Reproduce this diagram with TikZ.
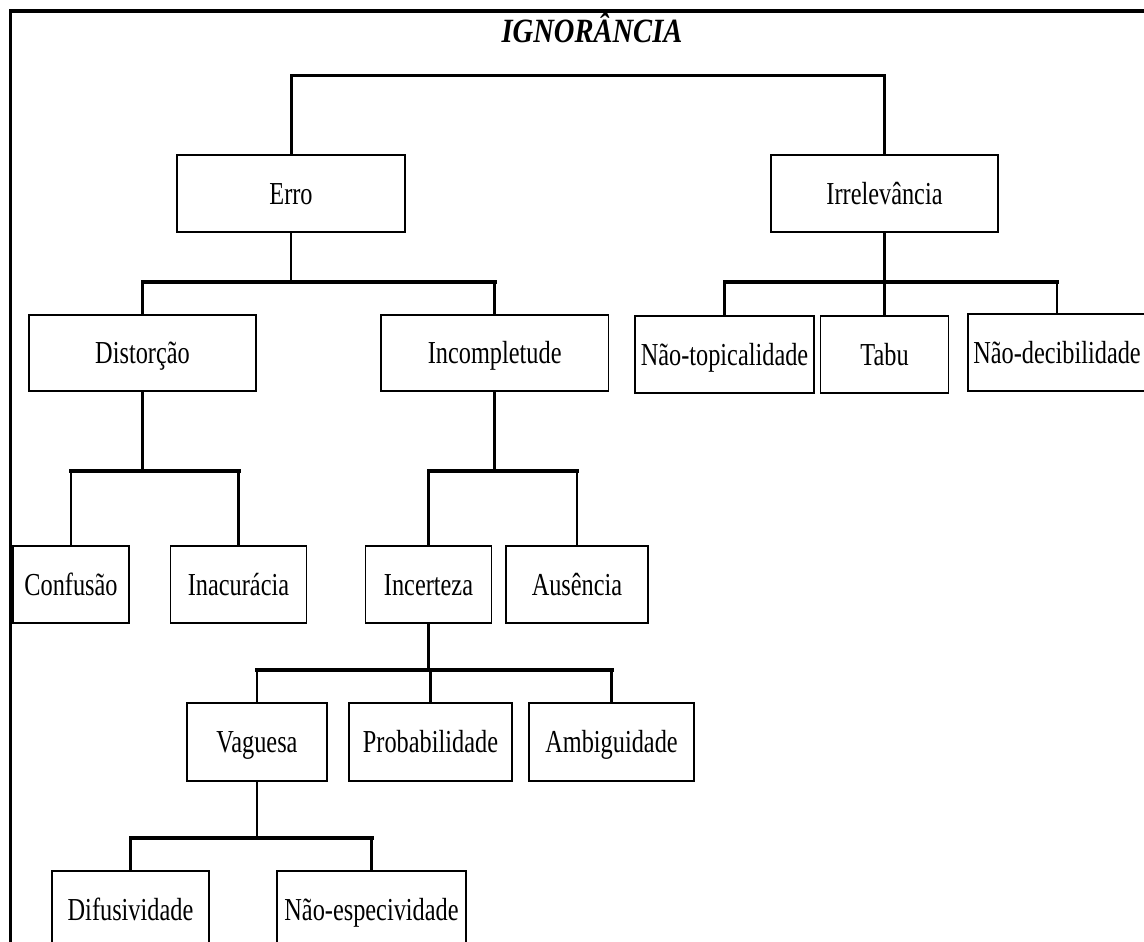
\documentclass[tikz,border=0pt]{standalone}
\usepackage{fontspec}
\setmainfont{Liberation Serif}
\newfontfamily\bodyfont[FakeStretch=0.76]{Liberation Serif}
\newfontfamily\titlefont[FakeStretch=0.84]{Liberation Serif}
\begin{document}
\begin{tikzpicture}[x=1pt,y=-1pt,
  box/.style={draw, line width=1.3pt, inner sep=0pt, text height=21pt, text depth=0pt,
    minimum height=77pt, font=\bodyfont\fontsize{32pt}{38pt}\selectfont},
  vl/.style={line width=2.6pt},
  hb/.style={line width=4pt, line cap=rect},
  tb/.style={line width=3pt},
  frame/.style={line width=3.5pt}]
\useasboundingbox (0,0) rectangle (1144,942);
% frame
\coordinate (fb) at (10.5,960);
\coordinate (fc) at (10.5,11);
\coordinate (fr) at (1160,11);
\draw[frame] (fb) -- (fc) -- (fr);
% title
\node[anchor=base, inner sep=0pt, font=\titlefont\bfseries\itshape\fontsize{34pt}{40pt}\selectfont] (title) at (592,43) {IGNORÂNCIA};
% level 1
\node[box, minimum width=228pt] (erro) at (291,193.5) {Erro};
\node[box, minimum width=227pt] (irr) at (884.5,193.5) {Irrelevância};
% level 2
\node[box, minimum width=227pt, minimum height=76pt] (dist) at (142.5,353) {Distorção};
\node[box, minimum width=227.5pt, minimum height=76pt] (incomp) at (494.7,353) {Incompletude};
\node[box, minimum width=179pt] (ntop) at (724.5,354.5) {Não-topicalidade};
\node[box, minimum width=128.5pt] (tabu) at (884.5,354.5) {Tabu};
\node[box, minimum width=178pt] (ndec) at (1057,352.5) {Não-decibilidade};
% level 3
\node[box, minimum width=116pt] (conf) at (71,584.5) {Confusão};
\node[box, minimum width=136pt] (inac) at (238.5,584.5) {Inacurácia};
\node[box, minimum width=126.6pt] (incer) at (428.5,584.5) {Incerteza};
\node[box, minimum width=142pt] (aus) at (577,584.5) {Ausência};
% level 4
\node[box, minimum width=140pt, minimum height=78pt] (vag) at (257,742) {Vaguesa};
\node[box, minimum width=163pt, minimum height=78pt] (prob) at (430.5,742) {Probabilidade};
\node[box, minimum width=165pt, minimum height=78pt] (amb) at (611.5,742) {Ambiguidade};
% level 5
\node[box, minimum width=157pt] (dif) at (130.5,909.5) {Difusividade};
\node[box, minimum width=189pt] (nesp) at (371.5,909.5) {Não-especividade};
% junctions
\coordinate (jT) at (588,76);
\coordinate (jE) at (291,282);
\coordinate (jI) at (884.5,282);
\coordinate (jD) at (142.5,470.5);
\coordinate (jC) at (494.7,470.5);
\coordinate (jX) at (428.5,670);
\coordinate (jV) at (257,837.5);
% top connector
\draw[tb] (erro.north) -- (erro.north |- jT) -- (irr.north |- jT) -- (irr.north);
% Erro
\draw[vl] (erro.south) -- (jE);
\draw[hb] (dist.north |- jE) -- (incomp.north |- jE);
\draw[vl] (dist.north |- jE) -- (dist.north);
\draw[vl] (incomp.north |- jE) -- (incomp.north);
% Irrelevancia
\draw[vl] (irr.south) -- (jI);
\draw[hb] (ntop.north |- jI) -- (ndec.north |- jI);
\draw[vl] (ntop.north |- jI) -- (ntop.north);
\draw[vl] (tabu.north |- jI) -- (tabu.north);
\draw[vl] (ndec.north |- jI) -- (ndec.north);
% Distorcao
\draw[vl] (dist.south) -- (jD);
\draw[hb] (conf.north |- jD) -- (inac.north |- jD);
\draw[vl] (conf.north |- jD) -- (conf.north);
\draw[vl] (inac.north |- jD) -- (inac.north);
% Incompletude
\draw[vl] (incomp.south) -- (jC);
\draw[hb] (incer.north |- jC) -- (aus.north |- jC);
\draw[vl] (incer.north |- jC) -- (incer.north);
\draw[vl] (aus.north |- jC) -- (aus.north);
% Incerteza
\draw[vl] (incer.south) -- (jX);
\draw[hb] (vag.north |- jX) -- (amb.north |- jX);
\draw[vl] (vag.north |- jX) -- (vag.north);
\draw[vl] (prob.north |- jX) -- (prob.north);
\draw[vl] (amb.north |- jX) -- (amb.north);
% Vaguesa
\draw[vl] (vag.south) -- (jV);
\draw[hb] (dif.north |- jV) -- (nesp.north |- jV);
\draw[vl] (dif.north |- jV) -- (dif.north);
\draw[vl] (nesp.north |- jV) -- (nesp.north);
\end{tikzpicture}
\end{document}
